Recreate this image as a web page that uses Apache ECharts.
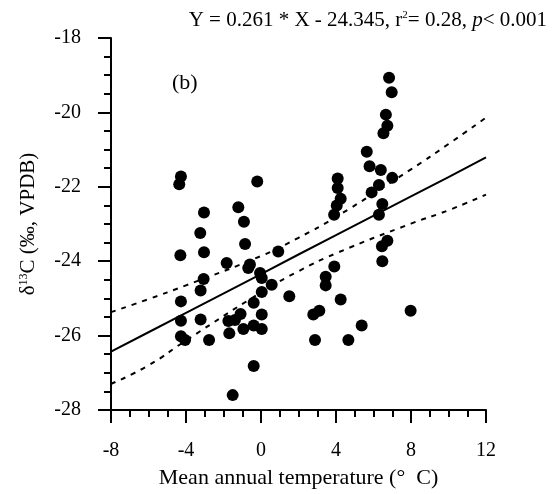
<!DOCTYPE html>
<html><head><meta charset="utf-8">
<script src="https://cdn.jsdelivr.net/npm/echarts@6/dist/echarts.min.js"></script>
<style>html,body{margin:0;padding:0;background:#fff}#c{width:556px;height:494px}</style>
</head><body><div id="c"></div>
<script>
// Observed points: mean annual temperature (°C) vs δ13C (‰)
const tempX = [-4.27,-4.36,-0.20,-3.04,-1.21,-0.91,-3.24,-0.85,-4.30,-3.04,-1.83,0.92,-0.68,-0.59,-0.05,0.04,-3.06,0.57,
  -3.22,0.04,1.51,-4.27,-0.39,-4.27,-3.22,-1.09,-1.74,-1.39,-0.94,-0.39,0.04,0.04,-1.69,-4.27,-4.05,-2.77,-0.39,-1.51,
  6.83,6.97,6.66,6.74,6.53,5.64,5.79,6.39,7.00,4.09,4.09,6.29,5.90,4.25,4.04,6.47,3.90,6.29,
  6.74,6.45,6.47,3.91,3.45,3.45,4.25,3.11,2.79,7.98,5.37,2.88,4.66];
const d13C = [-21.72,-21.93,-21.86,-22.69,-22.55,-22.94,-23.24,-23.54,-23.84,-23.76,-24.05,-23.74,-24.18,-24.09,-24.32,-24.45,-24.48,-24.63,
  -24.79,-24.83,-24.94,-25.08,-25.12,-25.60,-25.57,-25.42,-25.61,-25.58,-25.82,-25.73,-25.43,-25.82,-25.94,-26.02,-26.12,-26.12,-26.82,-27.60,
  -19.07,-19.46,-20.06,-20.36,-20.56,-21.06,-21.45,-21.55,-21.76,-21.78,-22.03,-21.95,-22.15,-22.32,-22.50,-22.46,-22.75,-22.75,
  -23.45,-23.60,-24.00,-24.14,-24.42,-24.65,-25.03,-25.33,-25.43,-25.33,-25.73,-26.12,-26.12];
// Regression line and 95% confidence band, read at these x positions
const bandX   = [-8, -6, -4, 0, 2, 4, 8, 10, 12];
const fitY    = [-26.43, -25.91, -25.39, -24.35, -23.82, -23.30, -22.26, -21.74, -21.21];
const upperY  = [-25.37, -25.02, -24.65, -23.86, -23.37, -22.81, -21.53, -20.85, -20.14];
const lowerY  = [-27.30, -26.80, -26.13, -24.84, -24.27, -23.79, -22.99, -22.63, -22.21];
const xTicks = {min: -8, max: 12, step: 4};
const yTicks = {min: -28, max: -18, step: 2};

const FONT = "'Liberation Serif','Times New Roman',serif";
const pts = tempX.map((x, i) => [x, d13C[i]]);
const pair = (ys) => bandX.map((x, i) => [x, ys[i]]);

const chart = echarts.init(document.getElementById('c'), null, {renderer: 'canvas'});
const axisCommon = {
  axisLine: {show: true, onZero: false, lineStyle: {color: '#000', width: 2}},
  axisTick: {show: true, inside: false, length: 13, lineStyle: {color: '#000', width: 2}},
  minorTick: {show: true, splitNumber: 4, length: 7, lineStyle: {color: '#000', width: 2}},
  splitLine: {show: false},
  axisLabel: {color: '#000', fontFamily: FONT, fontSize: 20},
};
chart.setOption({
  animation: false,
  backgroundColor: '#fff',
  grid: {left: 111, right: 70, top: 38, bottom: 83, containLabel: false},
  title: {
    text: '{n|Y = 0.261 * X - 24.345, r}{s|2}{n|= 0.28, }{i|p}{n|< 0.001}',
    right: 4, top: 5,
    textStyle: {fontWeight: 'normal', rich: {
      n: {fontFamily: FONT, fontSize: 21, color: '#000', fontWeight: 'normal'},
      i: {fontFamily: FONT, fontSize: 21, color: '#000', fontStyle: 'italic', fontWeight: 'normal'},
      s: {fontFamily: FONT, fontSize: 11, color: '#000', fontWeight: 'normal', verticalAlign: 'top', padding: [0,0,8,0]}
    }}
  },
  graphic: [{type: 'text', left: 172, top: 72, style: {text: '(b)', font: '22px ' + FONT, fill: '#000'}}],
  xAxis: Object.assign({}, axisCommon, {
    type: 'value', min: xTicks.min, max: xTicks.max, interval: xTicks.step,
    axisLabel: Object.assign({}, axisCommon.axisLabel, {margin: 31}),
    name: 'Mean annual temperature (°  C)', nameLocation: 'middle', nameGap: 57,
    nameTextStyle: {color: '#000', fontFamily: FONT, fontSize: 22}
  }),
  yAxis: Object.assign({}, axisCommon, {
    type: 'value', min: yTicks.min, max: yTicks.max, interval: yTicks.step,
    axisLabel: Object.assign({}, axisCommon.axisLabel, {margin: 30}),
    name: '{n|δ}{s|13}{n|C (‰, VPDB)}', nameLocation: 'middle', nameGap: 72, nameRotate: 90,
    nameTextStyle: {rich: {
      n: {fontFamily: FONT, fontSize: 21, color: '#000'},
      s: {fontFamily: FONT, fontSize: 12, color: '#000', verticalAlign: 'top', padding: [0,0,9,0]}
    }}
  }),
  series: [
    {type: 'line', data: pair(fitY), showSymbol: false, symbol: 'none', lineStyle: {color: '#000', width: 2}, z: 3},
    {type: 'line', data: pair(upperY), smooth: true, symbol: 'none', lineStyle: {color: '#000', width: 2, type: [5, 6]}, z: 3},
    {type: 'line', data: pair(lowerY), smooth: true, symbol: 'none', lineStyle: {color: '#000', width: 2, type: [5, 6]}, z: 3},
    {type: 'scatter', data: pts, symbol: 'circle', symbolSize: 12, itemStyle: {color: '#000', opacity: 1}, z: 4}
  ]
});
</script></body></html>
